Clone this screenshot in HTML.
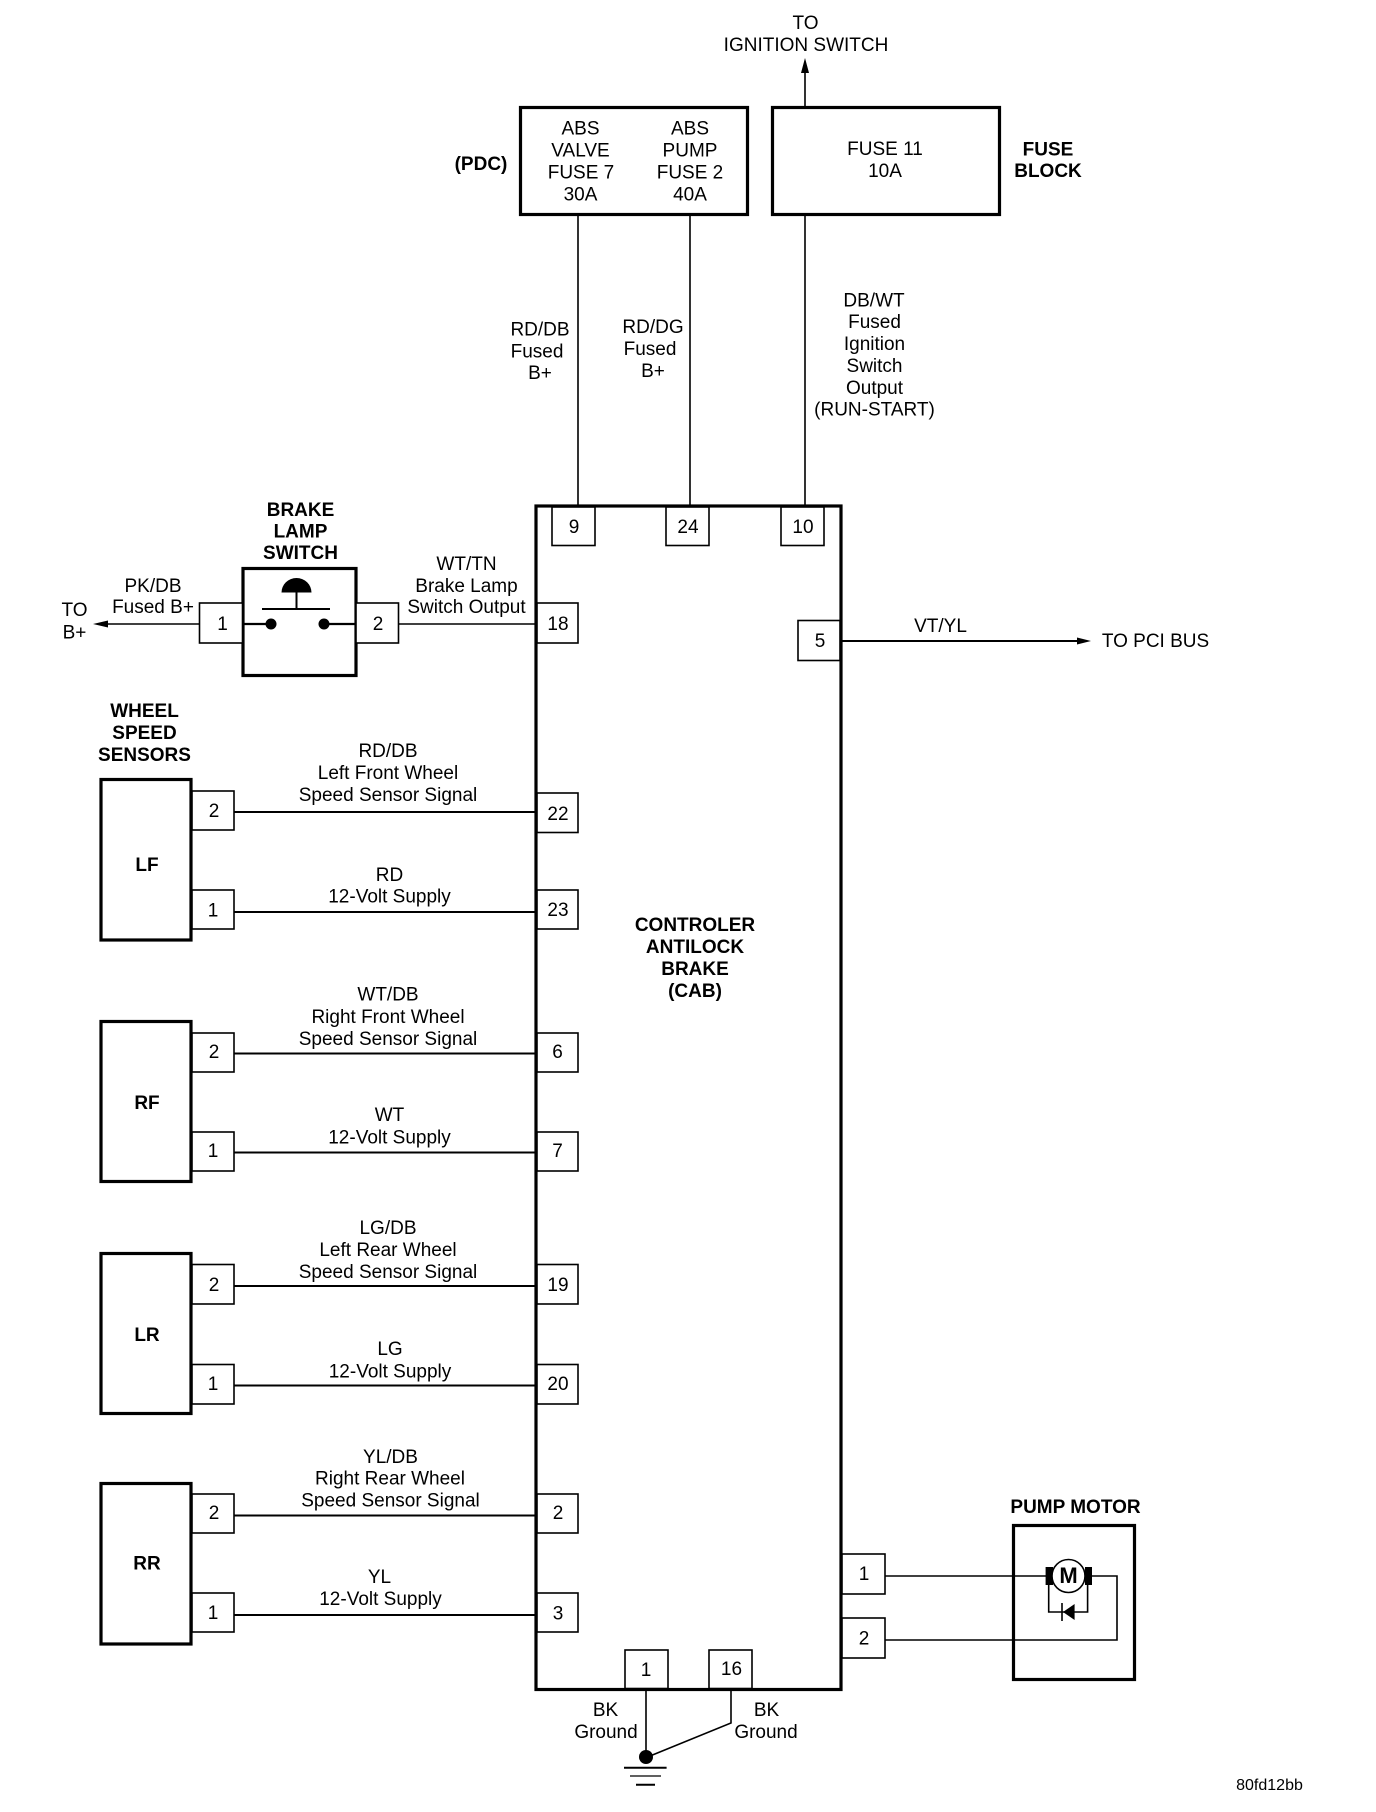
<!DOCTYPE html>
<html><head><meta charset="utf-8"><style>
html,body{margin:0;padding:0;background:#fff}
svg{display:block}
text{font-family:"Liberation Sans",Arial,sans-serif;font-size:19px;text-anchor:middle;fill:#000}
.b{font-weight:bold}
.box{fill:none;stroke:#000;stroke-width:3.2}
.pin{fill:#fff;stroke:#000;stroke-width:1.6}
.w{fill:none;stroke:#000;stroke-width:1.6}
</style></head><body>
<svg xmlns="http://www.w3.org/2000/svg" width="1376" height="1812" viewBox="0 0 1376 1812">
<rect width="1376" height="1812" fill="#fff"/>
<!-- wires -->
<g class="w">
<path d="M805 107V70M578 215V506M690 215V506M805 215V506"/>
<path d="M199 624H105M398 624H536"/>
<path d="M841 641H1079" stroke-width="2"/>
<path d="M234 812H536M234 912H536M234 1053.5H536M234 1152.5H536M234 1286H536M234 1385.5H536M234 1515.5H536M234 1615H536" stroke-width="2"/>
<path d="M885 1576H1046M885 1640H1117V1576H1091"/>
<path d="M646 1689V1757M731 1689V1723L650 1756"/>
<path d="M1048.7 1585V1612H1087.6V1585"/>
</g>
<path d="M805 58L801 73H809Z"/>
<path d="M93 624L108 620.5V627.5Z"/>
<path d="M1091 641L1077 637.5V644.5Z"/>
<!-- main boxes -->
<rect class="box" x="520.5" y="107.5" width="227" height="107"/>
<rect class="box" x="772.5" y="107.5" width="227" height="107"/>
<rect class="box" x="536" y="506" width="305" height="1183.5"/>
<rect class="box" x="243" y="568.5" width="113" height="107"/>
<rect class="box" x="101" y="779.5" width="90" height="160.5"/>
<rect class="box" x="101" y="1021.5" width="90" height="160"/>
<rect class="box" x="101" y="1253.5" width="90" height="160"/>
<rect class="box" x="101" y="1483.5" width="90" height="160.5"/>
<rect class="box" x="1013.5" y="1525.5" width="121" height="154"/>
<!-- pins -->
<g class="pin">
<rect x="552" y="507" width="43" height="38.5"/>
<rect x="666" y="507" width="43" height="38.5"/>
<rect x="781" y="507" width="43" height="38.5"/>
<rect x="199.5" y="603" width="43" height="40"/>
<rect x="356" y="603" width="42.5" height="40"/>
<rect x="537" y="603" width="41" height="40"/>
<rect x="798" y="620.5" width="42" height="40"/>
<rect x="192" y="791" width="42" height="39"/>
<rect x="537" y="793" width="41" height="39.5"/>
<rect x="192" y="890" width="42" height="39"/>
<rect x="537" y="890" width="41" height="39"/>
<rect x="192" y="1033" width="42" height="39"/>
<rect x="537" y="1033" width="41" height="39"/>
<rect x="192" y="1132" width="42" height="39"/>
<rect x="537" y="1132" width="41" height="39"/>
<rect x="192" y="1264.5" width="42" height="39.5"/>
<rect x="537" y="1264.5" width="41" height="39.5"/>
<rect x="192" y="1364.5" width="42" height="39.5"/>
<rect x="537" y="1364.5" width="41" height="39.5"/>
<rect x="192" y="1494" width="42" height="39"/>
<rect x="537" y="1494" width="41" height="39"/>
<rect x="192" y="1593" width="42" height="39"/>
<rect x="537" y="1593" width="41" height="39"/>
<rect x="842" y="1554" width="43" height="40"/>
<rect x="842" y="1618" width="43" height="40"/>
<rect x="625" y="1650" width="43" height="38.5"/>
<rect x="709" y="1650" width="43" height="38.5"/>
</g>
<!-- switch interior -->
<path d="M281.5 592.5A15 14.5 0 0 1 311.5 592.5Z"/>
<path d="M296.5 592V609M262 609H330" fill="none" stroke="#000" stroke-width="2"/>
<path d="M243 624H271M324 624H356" fill="none" stroke="#000" stroke-width="2.2"/>
<circle cx="271" cy="624" r="5.5"/><circle cx="324" cy="624" r="5.5"/>
<!-- motor -->
<rect x="1045.6" y="1567" width="7.5" height="18"/>
<rect x="1085" y="1567" width="7" height="18"/>
<circle cx="1068.5" cy="1576" r="16.5" fill="#fff" stroke="#000" stroke-width="1.6"/>
<path d="M1074.6 1604L1063 1612L1074.6 1620Z"/>
<path d="M1062 1603V1621" stroke="#000" stroke-width="1.6"/>
<!-- ground -->
<circle cx="646" cy="1757" r="7"/>
<path d="M624 1767.7H666.6M636 1784.7H655" stroke="#000" stroke-width="2"/>
<path d="M630 1776H661" stroke="#000" stroke-width="1.2"/>
<!-- labels -->
<g transform="translate(0,6)">
<text x="805.5" y="23">TO</text>
<text x="806" y="45">IGNITION SWITCH</text>
<text x="580.5" y="128.5">ABS</text><text x="580.5" y="150.5">VALVE</text><text x="581" y="172.5">FUSE 7</text><text x="580.5" y="194.5">30A</text>
<text x="690" y="128.5">ABS</text><text x="690" y="150.5">PUMP</text><text x="690" y="172.5">FUSE 2</text><text x="690" y="194.5">40A</text>
<text class="b" x="481" y="164">(PDC)</text>
<text x="885" y="149">FUSE 11</text><text x="885" y="171">10A</text>
<text class="b" x="1048" y="149.5">FUSE</text><text class="b" x="1048" y="171">BLOCK</text>
<text x="540" y="329.5">RD/DB</text><text x="537" y="351.5">Fused</text><text x="540" y="373">B+</text>
<text x="653" y="327">RD/DG</text><text x="650" y="349">Fused</text><text x="653" y="371">B+</text>
<text x="874" y="300.5">DB/WT</text><text x="874.5" y="322">Fused</text><text x="874.5" y="344">Ignition</text><text x="874.5" y="366">Switch</text><text x="874.5" y="388">Output</text><text x="874.5" y="409.5">(RUN-START)</text>
<text x="574" y="527">9</text><text x="688" y="527">24</text><text x="803" y="527">10</text>
<text class="b" x="300.5" y="510">BRAKE</text><text class="b" x="300.5" y="531.5">LAMP</text><text class="b" x="300.5" y="553">SWITCH</text>
<text x="153" y="586">PK/DB</text><text x="153" y="607">Fused B+</text>
<text x="74.5" y="610">TO</text><text x="74.5" y="632.5">B+</text>
<text x="222.5" y="624">1</text><text x="378" y="624">2</text><text x="558" y="624">18</text>
<text x="466.5" y="564">WT/TN</text><text x="466.5" y="586">Brake Lamp</text><text x="466.5" y="607">Switch Output</text>
<text x="820" y="641">5</text>
<text x="940.5" y="626">VT/YL</text>
<text x="1155.5" y="641">TO PCI BUS</text>
<text class="b" x="144.5" y="711">WHEEL</text><text class="b" x="144.5" y="733">SPEED</text><text class="b" x="144.5" y="755">SENSORS</text>
<text class="b" x="147" y="865">LF</text><text class="b" x="147" y="1103">RF</text><text class="b" x="147" y="1335">LR</text><text class="b" x="147" y="1563.5">RR</text>
<text x="214" y="811">2</text><text x="213" y="910.5">1</text>
<text x="214" y="1052">2</text><text x="213" y="1151">1</text>
<text x="214" y="1285">2</text><text x="213" y="1384">1</text>
<text x="214" y="1513">2</text><text x="213" y="1613">1</text>
<text x="558" y="814">22</text><text x="558" y="910">23</text>
<text x="557.5" y="1052">6</text><text x="557.5" y="1151">7</text>
<text x="558" y="1285">19</text><text x="558" y="1384">20</text>
<text x="558" y="1513">2</text><text x="558" y="1613.5">3</text>
<text x="388" y="751">RD/DB</text><text x="388" y="773">Left Front Wheel</text><text x="388" y="795">Speed Sensor Signal</text>
<text x="389.5" y="875">RD</text><text x="389.5" y="896.5">12-Volt Supply</text>
<text x="388" y="994.5">WT/DB</text><text x="388" y="1017">Right Front Wheel</text><text x="388" y="1039">Speed Sensor Signal</text>
<text x="389.5" y="1115">WT</text><text x="389.5" y="1137.5">12-Volt Supply</text>
<text x="388" y="1228">LG/DB</text><text x="388" y="1250">Left Rear Wheel</text><text x="388" y="1272">Speed Sensor Signal</text>
<text x="390" y="1349">LG</text><text x="390" y="1371.5">12-Volt Supply</text>
<text x="390.5" y="1457">YL/DB</text><text x="390" y="1478.5">Right Rear Wheel</text><text x="390.5" y="1500.5">Speed Sensor Signal</text>
<text x="379.5" y="1577">YL</text><text x="380.5" y="1599">12-Volt Supply</text>
<text class="b" x="695" y="925">CONTROLER</text><text class="b" x="695" y="947">ANTILOCK</text><text class="b" x="695" y="969">BRAKE</text><text class="b" x="695" y="991">(CAB)</text>
<text class="b" x="1075.5" y="1507">PUMP MOTOR</text>
<text class="b" x="1068.5" y="1577" style="font-size:22px">M</text>
<text x="864" y="1574">1</text><text x="864" y="1638.5">2</text>
<text x="646" y="1670">1</text><text x="731.5" y="1669">16</text>
<text x="605.5" y="1710">BK</text><text x="606" y="1732">Ground</text>
<text x="766.5" y="1710">BK</text><text x="766" y="1732">Ground</text>
<text x="1269.5" y="1784" style="font-size:16px">80fd12bb</text>
</g>
</svg>
</body></html>
